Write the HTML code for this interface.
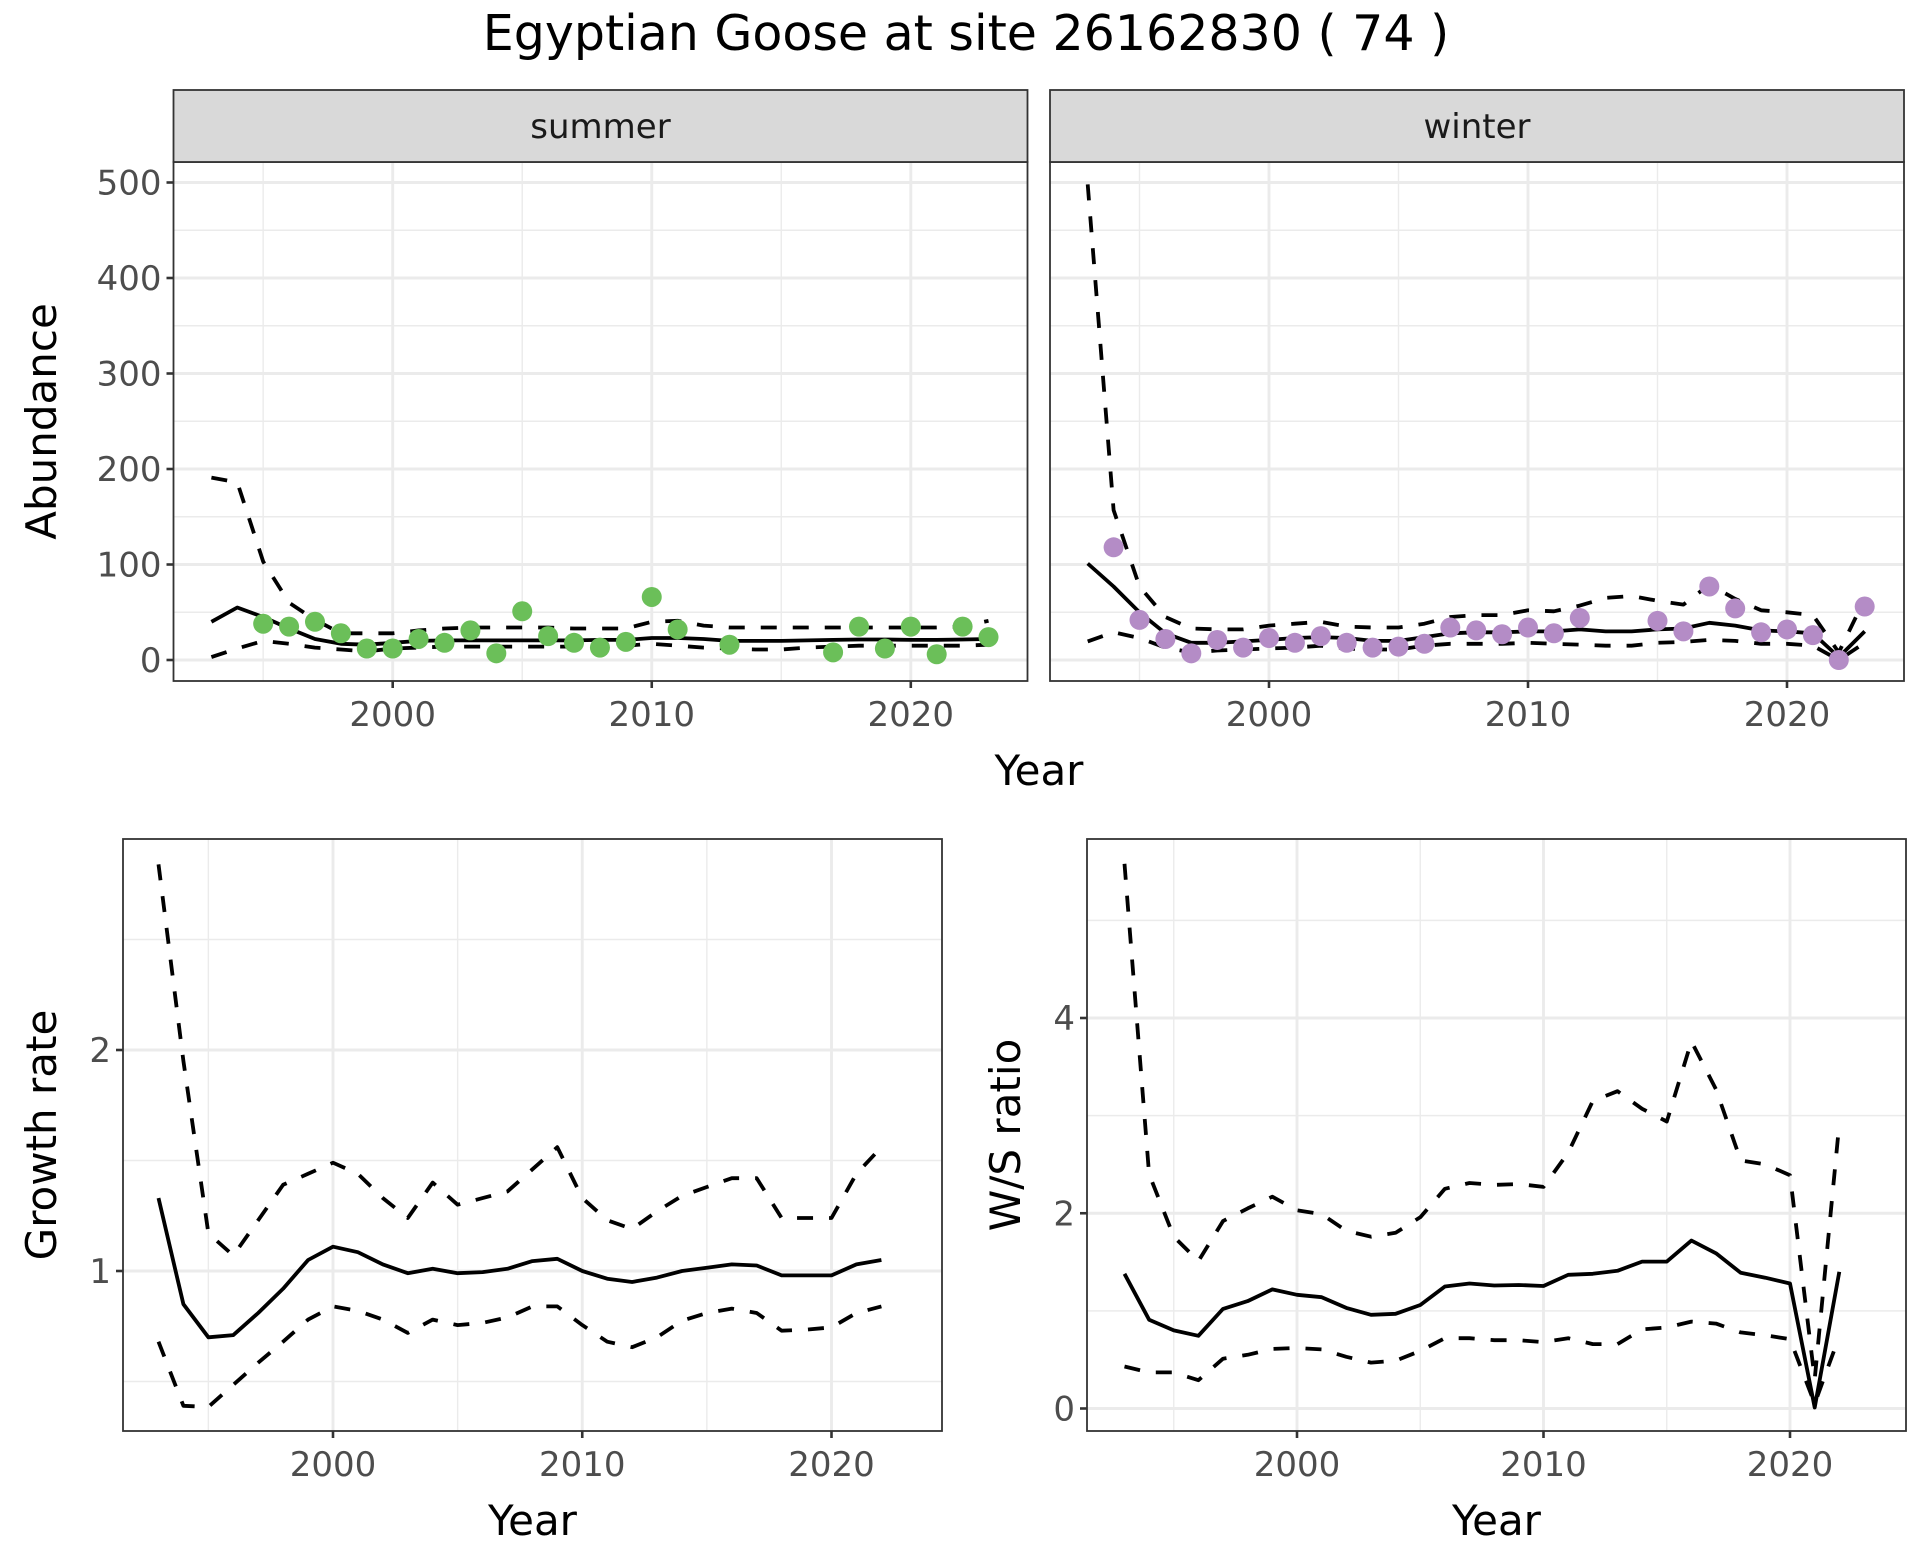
<!DOCTYPE html>
<html><head><meta charset="utf-8">
<style>
html,body{margin:0;padding:0;background:#fff;}
svg{display:block;font-family:"DejaVu Sans","Liberation Sans",sans-serif;}
</style></head>
<body>
<svg id="chart" xmlns="http://www.w3.org/2000/svg" width="1920" height="1560" viewBox="0 0 1920 1560">
<rect width="1920" height="1560" fill="#fff"/>
<text x="966" y="50" font-size="49" text-anchor="middle" fill="#000">Egyptian Goose at site 26162830 ( 74 )</text>
</svg>
<script>
const years = [1993,1994,1995,1996,1997,1998,1999,2000,2001,2002,2003,2004,2005,2006,2007,2008,2009,2010,2011,2012,2013,2014,2015,2016,2017,2018,2019,2020,2021,2022,2023];
const summerMean  = [40,55,45,33,22,17,16,18,20,20.5,20.5,20.5,20.5,20.5,20.5,21,21,23,23,22,20,20,20,20.5,21,21.5,21.5,21,21,21.5,22];
const summerUpper = [191,186,103,60,42,28,28,28,31,33,34,34,34,34,33,33,33,40,41,36,34,34,34,34,34,34,34,34,34,35,41];
const summerLower = [3,12,20,17,13,11,9,12,13,14,14,14,14,14,14,15,15,17,15,13,12,11,11,13,14,15,15,15,15,15,16];
const summerPtYears = [1995,1996,1997,1998,1999,2000,2001,2002,2003,2004,2005,2006,2007,2008,2009,2010,2011,2013,2017,2018,2019,2020,2021,2022,2023];
const summerCounts  = [38,35,40,28,12,12,22,18,31,7,51,25,18,13,19,66,32,16,8,35,12,35,6,35,24];
const winterMean  = [101,77,50,28,18,18,19.5,21,23,24,23,20,20,24,28,29,29,30,30,32,30,30,32,33,39,36,31,30,28,3,30];
const winterUpper = [498,157,77,45,33,32,32,36,38,40,35,34,34,38,45,47,47,52,51,57,65,67,62,58,79,64,52,50,47,8,64];
const winterLower = [19.5,29,23,13,8,10,11,12,13,15,12,11,11,15,17,17,17,18,17,16,15,15,18,19,21,20,17,17,15,0,18];
const winterPtYears = [1994,1995,1996,1997,1998,1999,2000,2001,2002,2003,2004,2005,2006,2007,2008,2009,2010,2011,2012,2015,2016,2017,2018,2019,2020,2021,2022,2023];
const winterCounts  = [118,42,22,7,21,13,23,18,25,18,13,14,17,34,31,27,34,28,44,41,30,77,54,29,32,26,0,56];
const grYears = years.slice(0,30);
const grMean  = [1.33,0.85,0.70,0.71,0.81,0.92,1.05,1.11,1.085,1.03,0.99,1.01,0.99,0.995,1.01,1.045,1.055,1.0,0.965,0.95,0.97,1.0,1.015,1.03,1.025,0.98,0.98,0.98,1.03,1.05];
const grUpper = [2.84,1.95,1.17,1.07,1.23,1.39,1.44,1.49,1.44,1.33,1.24,1.40,1.30,1.33,1.36,1.46,1.56,1.33,1.23,1.19,1.27,1.34,1.38,1.42,1.42,1.24,1.24,1.24,1.44,1.56];
const grLower = [0.68,0.39,0.385,0.485,0.585,0.68,0.78,0.84,0.82,0.78,0.72,0.78,0.755,0.765,0.79,0.84,0.84,0.755,0.68,0.655,0.70,0.775,0.81,0.83,0.81,0.73,0.735,0.745,0.81,0.84];
const wsMean  = [1.38,0.91,0.80,0.745,1.02,1.10,1.22,1.165,1.14,1.03,0.96,0.97,1.06,1.25,1.28,1.26,1.265,1.255,1.37,1.38,1.41,1.505,1.505,1.72,1.59,1.39,1.34,1.28,0.01,1.40];
const wsUpper = [5.58,2.4,1.76,1.51,1.92,2.05,2.17,2.03,1.99,1.82,1.76,1.80,1.96,2.25,2.31,2.29,2.30,2.27,2.62,3.15,3.25,3.07,2.94,3.76,3.27,2.54,2.50,2.39,0.3,2.92];
const wsLower = [0.43,0.37,0.37,0.29,0.51,0.55,0.61,0.62,0.605,0.53,0.47,0.49,0.59,0.72,0.72,0.70,0.70,0.68,0.72,0.66,0.66,0.81,0.83,0.89,0.87,0.78,0.75,0.71,0.05,0.74];
const xTicks = [2000,2010,2020];
const xMinor = [1995,2005,2015];
const abTicks = [0,100,200,300,400,500];
const abMinor = [50,150,250,350,450];
const grTicks = [1,2];
const grMinor = [0.5,1.5,2.5];
const wsTicks = [0,2,4];
const wsMinor = [1,3,5];

const NS = 'http://www.w3.org/2000/svg';
const svg = document.getElementById('chart');
function mk(tag, attrs, parent){ const e=document.createElementNS(NS,tag); for(const k in attrs) e.setAttribute(k,attrs[k]); (parent||svg).appendChild(e); return e; }
function lin(d0,d1,r0,r1){ return v => r0 + (v-d0)*(r1-r0)/(d1-d0); }

function panel(p){
  const g = mk('g',{});
  
  
  const sx = lin(2000,2020,p.x2000,p.x2020), sy = lin(p.yv0,p.yv1,p.yp0,p.yp1);
  mk('rect',{x:p.left,y:p.top,width:p.right-p.left,height:p.bottom-p.top,fill:'#fff'},g);
  p.yMinor.forEach(v=>{ const y=sy(v); if(y>p.top&&y<p.bottom) mk('line',{x1:p.left,x2:p.right,y1:y,y2:y,stroke:'#EBEBEB','stroke-width':1.4},g);});
  xMinor.forEach(v=>{ const x=sx(v); mk('line',{x1:x,x2:x,y1:p.top,y2:p.bottom,stroke:'#EBEBEB','stroke-width':1.4},g);});
  p.yTicks.forEach(v=>{ const y=sy(v); mk('line',{x1:p.left,x2:p.right,y1:y,y2:y,stroke:'#EBEBEB','stroke-width':2.9},g);});
  xTicks.forEach(v=>{ const x=sx(v); mk('line',{x1:x,x2:x,y1:p.top,y2:p.bottom,stroke:'#EBEBEB','stroke-width':2.9},g);});
  function path(xs,vals,dash,name){
    const d = vals.map((v,i)=>(i?'L':'M')+sx(xs[i]).toFixed(1)+','+sy(v).toFixed(1)).join('');
    const e = mk('path',{d:d,fill:'none',stroke:'#000','stroke-width':3.8,'stroke-linejoin':'round'},g);
    if(dash) e.setAttribute('stroke-dasharray','16 16');
    
    
  }
  path(p.xs,p.upper,true,p.name+'-upper-ci');
  path(p.xs,p.lower,true,p.name+'-lower-ci');
  path(p.xs,p.mean,false,p.name+'-mean-line');
  if(p.pts){
    p.ptYears.forEach((yr,i)=>{
      const c = mk('circle',{cx:sx(yr),cy:sy(p.pts[i]),r:10,fill:p.color},g);
      
      
    });
  }
  mk('rect',{x:p.left,y:p.top,width:p.right-p.left,height:p.bottom-p.top,fill:'none',stroke:'#333','stroke-width':1.8},g);
  xTicks.forEach(v=>{ const x=sx(v);
    mk('line',{x1:x,x2:x,y1:p.bottom,y2:p.bottom+7,stroke:'#333','stroke-width':2.6},g);
    const t=mk('text',{x:x,y:p.bottom+45,'font-size':34,'text-anchor':'middle',fill:'#4D4D4D'},g); t.textContent=v;
    
    
  });
  if(p.showY){
    p.yTicks.forEach(v=>{ const y=sy(v);
      mk('line',{x1:p.left-7,x2:p.left,y1:y,y2:y,stroke:'#333','stroke-width':2.6},g);
      const t=mk('text',{x:p.left-12,y:y+12,'font-size':34,'text-anchor':'end',fill:'#4D4D4D'},g); t.textContent=v;
      
      
    });
  }
  if(p.strip){
    mk('rect',{x:p.left,y:p.stripTop,width:p.right-p.left,height:p.top-p.stripTop,fill:'#D9D9D9',stroke:'#333','stroke-width':1.8},g);
    const t=mk('text',{x:(p.left+p.right)/2,y:(p.stripTop+p.top)/2+12,'font-size':34,'text-anchor':'middle',fill:'#1A1A1A'},g); t.textContent=p.strip;
    
    
  }
  if(p.yTitle){
    const t=mk('text',{x:0,y:0,'font-size':42,'text-anchor':'middle',fill:'#000',transform:'translate('+p.yTitleX+','+((p.top+p.bottom)/2)+') rotate(-90)'},g); t.textContent=p.yTitle;
    
    
  }
  if(p.xTitle){
    const t=mk('text',{x:(p.left+p.right)/2,y:p.bottom+104,'font-size':42,'text-anchor':'middle',fill:'#000'},g); t.textContent=p.xTitle;
    
    
  }
}

panel({name:'summer-panel',left:173.5,right:1027.5,top:162,bottom:681,stripTop:90,strip:'summer',
  x2000:392.7,x2020:910.8,yv0:0,yv1:500,yp0:660,yp1:182.5,yTicks:abTicks,yMinor:abMinor,showY:true,
  xs:years,mean:summerMean,upper:summerUpper,lower:summerLower,ptYears:summerPtYears,pts:summerCounts,color:'#6BBF59',
  yTitle:'Abundance',yTitleX:56});
panel({name:'winter-panel',left:1050,right:1904,top:162,bottom:681,stripTop:90,strip:'winter',
  x2000:1269,x2020:1787,yv0:0,yv1:500,yp0:660,yp1:182.5,yTicks:abTicks,yMinor:abMinor,showY:false,
  xs:years,mean:winterMean,upper:winterUpper,lower:winterLower,ptYears:winterPtYears,pts:winterCounts,color:'#B48CC6'});
panel({name:'growth-rate-panel',left:123,right:942,top:839,bottom:1431,
  x2000:333,x2020:831.5,yv0:1,yv1:2,yp0:1271,yp1:1050,yTicks:grTicks,yMinor:grMinor,showY:true,
  xs:grYears,mean:grMean,upper:grUpper,lower:grLower,yTitle:'Growth rate',yTitleX:56,xTitle:'Year'});
panel({name:'ws-ratio-panel',left:1087,right:1906,top:839,bottom:1431,
  x2000:1297,x2020:1790,yv0:0,yv1:4,yp0:1408.5,yp1:1018,yTicks:wsTicks,yMinor:wsMinor,showY:true,
  xs:grYears,mean:wsMean,upper:wsUpper,lower:wsLower,yTitle:'W/S ratio',yTitleX:1020,xTitle:'Year'});
const yt = mk('text',{x:1039,y:785,'font-size':42,'text-anchor':'middle',fill:'#000'});
yt.textContent='Year';


</script>
</body></html>
